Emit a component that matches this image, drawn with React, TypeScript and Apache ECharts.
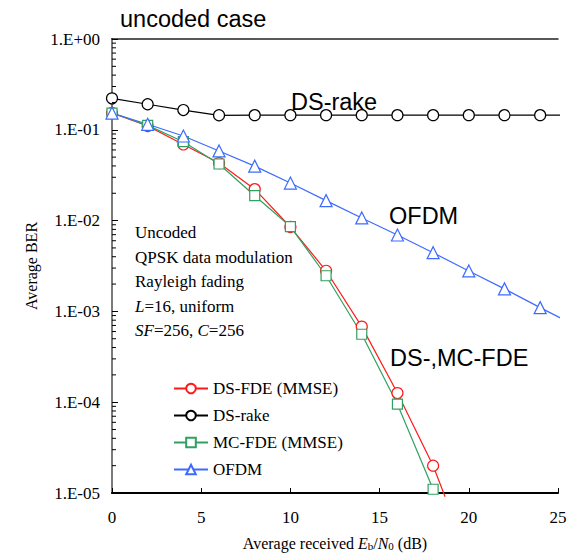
import React, { useEffect, useRef } from "react";
import * as echarts from "echarts";

// Eb/N0 sweep (dB) shared by every curve
const snrDb = [0, 2, 4, 6, 8, 10, 12, 14, 16, 18, 20, 22, 24];

// Average BER per scheme
const dsFdeBer = [0.153, 0.11, 0.069, 0.043, 0.0222, 0.0085, 0.0028, 0.00068, 0.000126, 0.00002];
const dsRakeBer = [0.222, 0.191, 0.165, 0.1445, 0.145, 0.145, 0.145, 0.145, 0.145, 0.145, 0.145, 0.145, 0.145];
const mcFdeBer = [0.153, 0.112, 0.074, 0.042, 0.0188, 0.0086, 0.00247, 0.00056, 0.000095, 0.000011];
const ofdmBer = [0.153, 0.115, 0.0855, 0.0585, 0.0398, 0.0259, 0.0166, 0.0107, 0.00694, 0.00443, 0.00279, 0.00177, 0.0011];

// Where each curve runs on past its last marker
const dsFdeTail: [number, number] = [18.67, 0.0000091];
const dsRakeTail: [number, number] = [25.3, 0.145];
const ofdmTail: [number, number] = [25.28, 0.000818];

const seriesNames = ["DS-FDE (MMSE)", "DS-rake", "MC-FDE (MMSE)", "OFDM"];

// Log-axis decades and the 2..9 minor tick multipliers
const xTicks = [0, 5, 10, 15, 20, 25];
const decadeExponents = [-5, -4, -3, -2, -1];
const minorMultipliers = [2, 3, 4, 5, 6, 7, 8, 9];

const infoLines = [
  "Uncoded",
  "QPSK data modulation",
  "Rayleigh fading",
  "{i|L}=16, uniform",
  "{i|SF}=256, {i|C}=256",
];

const SERIF = "'Liberation Serif', 'Times New Roman', serif";
const SANS = "'Liberation Sans', Arial, sans-serif";

const RED = "#ff1a1a";
const GREEN = "#30a060";
const BLUE = "#3d6bff";
const BLACK = "#000000";

function toPoints(ber: number[], tail?: [number, number]) {
  const pts: any[] = ber.map((v, i) => [snrDb[i], v]);
  if (tail) pts.push({ value: tail, symbol: "none" });
  return pts;
}

function berLabel(v: number) {
  const e = Math.round(Math.log10(v));
  const sign = e >= 0 ? "+" : "-";
  return `1.E${sign}${String(Math.abs(e)).padStart(2, "0")}`;
}

function lineSeries(name: string, color: string, symbol: string, size: number, data: any[]) {
  return {
    type: "line",
    name,
    data,
    symbol,
    symbolSize: size,
    showAllSymbol: true,
    clip: false,
    lineStyle: { color, width: 1.2 },
    itemStyle: { color: "#ffffff", borderColor: color, borderWidth: 1.2 },
    emphasis: { disabled: true },
  };
}

function sansLabel(text: string, left: number, top: number) {
  return {
    type: "text",
    left,
    top,
    style: { text, font: `23.5px ${SANS}`, fill: BLACK },
  };
}

export default function App() {
  const ref = useRef<HTMLDivElement>(null);

  useEffect(() => {
    if (!ref.current) return;
    const chart = echarts.init(ref.current, undefined, { renderer: "svg" });

    const minorTickValues = decadeExponents.flatMap((e) =>
      minorMultipliers.map((m) => [0, m * Math.pow(10, e)])
    );

    const infoGraphics = infoLines.map((line, i) => ({
      type: "text",
      left: 135,
      top: 224 + i * 24.5,
      style: {
        text: line,
        font: `17px ${SERIF}`,
        fill: BLACK,
        rich: { i: { fontStyle: "italic", fontFamily: SERIF, fontSize: 17 } },
      },
    }));

    chart.setOption({
      animation: false,
      backgroundColor: "#ffffff",
      grid: {
        left: 112,
        right: 18,
        top: 39,
        bottom: 62,
        containLabel: false,
        outerBoundsMode: "none",
      },
      xAxis: [
        {
          type: "value",
          min: 0,
          max: 25,
          interval: 5,
          position: "bottom",
          axisLine: { lineStyle: { color: BLACK, width: 2 } },
          axisTick: { inside: true, length: 5, lineStyle: { color: BLACK } },
          axisLabel: {
            margin: 16,
            fontFamily: SERIF,
            fontSize: 17,
            color: BLACK,
            customValues: xTicks,
          },
          splitLine: { show: false },
          name: "Average received {i|E}{s|b}/{i|N}{s|0} (dB)",
          nameLocation: "middle",
          nameGap: 42,
          nameTextStyle: {
            fontFamily: SERIF,
            fontSize: 16,
            color: BLACK,
            rich: {
              i: { fontStyle: "italic", fontFamily: SERIF, fontSize: 16, color: BLACK },
              s: { fontFamily: SERIF, fontSize: 11, color: BLACK, padding: [5, 0, 0, 0] },
            },
          },
        },
        {
          type: "value",
          min: 0,
          max: 25,
          position: "top",
          axisLine: { lineStyle: { color: "#222222", width: 1.5 } },
          axisTick: { show: false },
          axisLabel: { show: false },
          splitLine: { show: false },
        },
      ],
      yAxis: [
        {
          type: "log",
          logBase: 10,
          min: 1e-5,
          max: 1,
          splitNumber: 5,
          axisLine: { show: true, lineStyle: { color: BLACK, width: 2 } },
          axisTick: { show: true, inside: true, length: 6, lineStyle: { color: BLACK } },
          axisLabel: {
            margin: 12,
            fontFamily: SERIF,
            fontSize: 17,
            color: BLACK,
            formatter: (v: number) => berLabel(v),
          },
          splitLine: { show: false },
          name: "Average BER",
          nameLocation: "middle",
          nameRotate: 90,
          nameGap: 72,
          nameTextStyle: { fontFamily: SERIF, fontSize: 16, color: BLACK },
        },
        {
          type: "log",
          logBase: 10,
          min: 1e-5,
          max: 1,
          position: "right",
          axisLine: { show: true, lineStyle: { color: "#7a7a7a", width: 2 } },
          axisTick: { show: false },
          axisLabel: { show: false },
          splitLine: { show: false },
        },
      ],
      legend: {
        data: seriesNames,
        orient: "vertical",
        left: 168,
        top: 375,
        itemWidth: 34,
        itemHeight: 12,
        itemGap: 10,
        selectedMode: false,
        textStyle: { fontFamily: SERIF, fontSize: 17, color: BLACK },
      },
      graphic: [
        sansLabel("uncoded case", 120, 7),
        sansLabel("DS-rake", 291, 90),
        sansLabel("OFDM", 389, 204),
        sansLabel("DS-,MC-FDE", 390, 346),
        ...infoGraphics,
      ],
      series: [
        {
          type: "custom",
          name: "minor ticks",
          silent: true,
          z: 5,
          data: minorTickValues,
          encode: { x: 0, y: 1 },
          renderItem: (_params: any, api: any) => {
            const p = api.coord([0, api.value(1)]);
            return {
              type: "line",
              shape: { x1: p[0], y1: p[1], x2: p[0] + 4, y2: p[1] },
              style: { stroke: BLACK, lineWidth: 1 },
            };
          },
        },
        lineSeries(seriesNames[0], RED, "circle", 11, toPoints(dsFdeBer, dsFdeTail)),
        lineSeries(seriesNames[1], BLACK, "circle", 11, toPoints(dsRakeBer, dsRakeTail)),
        lineSeries(seriesNames[2], GREEN, "rect", 10, toPoints(mcFdeBer)),
        lineSeries(seriesNames[3], BLUE, "triangle", 12, toPoints(ofdmBer, ofdmTail)),
      ],
    });

    return () => chart.dispose();
  }, []);

  return (
    <div
      ref={ref}
      style={{ position: "absolute", left: 0, top: 0, width: 576, height: 555 }}
    />
  );
}
